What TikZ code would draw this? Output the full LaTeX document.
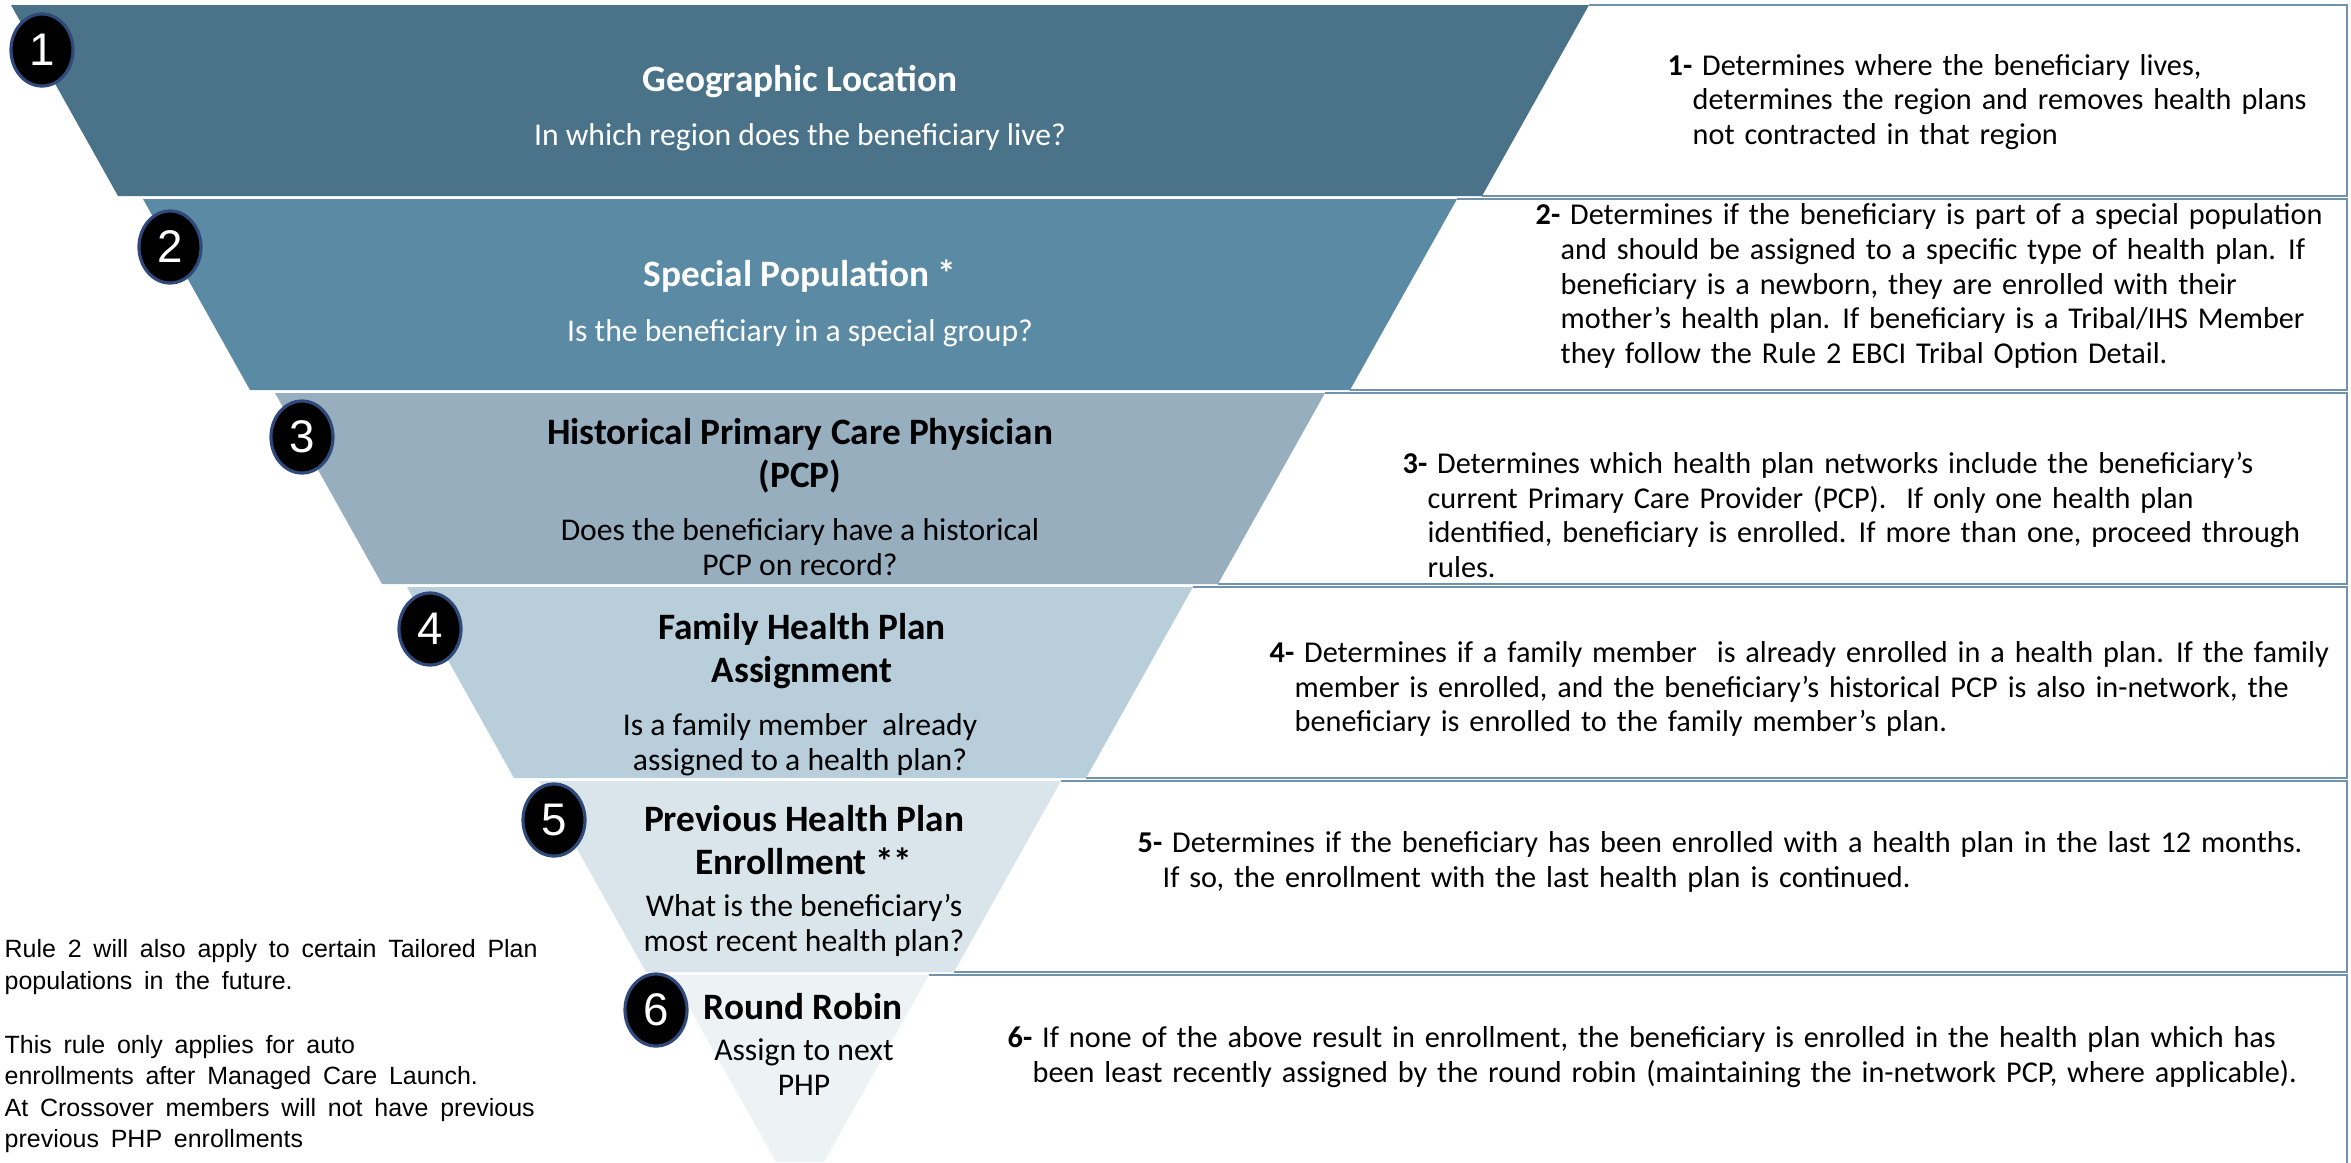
\documentclass[tikz,border=0pt]{standalone}
\usepackage{fontspec}
\setmainfont{Carlito}
\newfontfamily\numfont{Liberation Sans}
\newfontfamily\notefont{Liberation Sans}[WordSpace=1.7]
\newfontfamily\detailfont{Carlito}[WordSpace=1.45]
\usepackage{tikz}
\usetikzlibrary{shapes.geometric}
\definecolor{bandone}{RGB}{74,115,137}
\definecolor{bandtwo}{RGB}{91,138,164}
\definecolor{bandthree}{RGB}{151,174,191}
\definecolor{bandfour}{RGB}{184,206,218}
\definecolor{bandfive}{RGB}{218,229,235}
\definecolor{bandsix}{RGB}{237,242,245}
\definecolor{boxline}{RGB}{112,146,172}
\definecolor{dotline}{RGB}{47,74,122}
\newcommand{\hind}{\hspace*{7.1pt}}

\begin{document}
\begin{tikzpicture}[
    x=0.01cm, y=-0.01cm,
    infobox/.style={draw=boxline, line width=0.7pt},
    numdot/.style={ellipse, fill=black, draw=dotline, line width=0.9pt, minimum width=0.62cm, minimum height=0.72cm, inner sep=0pt, text=white, font=\numfont\fontsize{13}{13}\selectfont},
    bandtitle/.style={font=\bfseries\fontsize{10.6}{12.3}\selectfont, align=center, inner sep=0pt, text=#1},
    question/.style={font=\fontsize{9}{10}\selectfont, align=center, inner sep=0pt, text=#1},
    detail/.style={font=\detailfont\fontsize{8.6}{9.9}\selectfont, align=left, anchor=west, inner sep=0pt},
    sidenote/.style={font=\notefont\fontsize{7.1}{9}\selectfont, align=left, anchor=west, inner sep=0pt}
]
    \useasboundingbox (0,0) rectangle (2351,1162);

    % Boxes on the right
    \draw[infobox] (1589,5) -- (2347,5) -- (2347,196) -- (1482,196);
    \draw[infobox] (1457,199) -- (2347,199) -- (2347,390) -- (1350,390);
    \draw[infobox] (1325,393) -- (2347,393) -- (2347,584) -- (1218,584);
    \draw[infobox] (1193,587) -- (2347,587) -- (2347,778) -- (1086,778);
    \draw[infobox] (1061,781) -- (2347,781) -- (2347,972) -- (954,972);
    \draw[infobox] (929,975) -- (2347,975) -- (2347,1175);

    % Funnel bands
    \fill[bandone] (11,5) -- (1589,5) -- (1482,196) -- (118,196) -- cycle;
    \fill[bandtwo] (143,199) -- (1457,199) -- (1350,390) -- (250,390) -- cycle;
    \fill[bandthree] (275,393) -- (1325,393) -- (1218,584) -- (382,584) -- cycle;
    \fill[bandfour] (407,587) -- (1193,587) -- (1086,778) -- (514,778) -- cycle;
    \fill[bandfive] (539,781) -- (1061,781) -- (954,972) -- (646,972) -- cycle;
    \fill[bandsix] (671,975) -- (929,975) -- (824,1162) -- (776,1162) -- cycle;

    % Step numbers
    \node[numdot] (n1) at (42,50) {1};
    \node[numdot] (n2) at (170,247) {2};
    \node[numdot] (n3) at (302,437) {3};
    \node[numdot] (n4) at (430,629) {4};
    \node[numdot] (n5) at (554,820) {5};
    \node[numdot] (n6) at (656,1010) {6};

    % Funnel texts
    \node[bandtitle=white] (geo) at (800,82) {Geographic Location};
    \node[question=white] (geoq) at (800,137) {In which region does the beneficiary live?};
    \node[bandtitle=white] (spec) at (800,276) {Special Population *};
    \node[question=white] (specq) at (800,333) {Is the beneficiary in a special group?};
    \node[bandtitle=black] (pcp) at (800,456) {Historical Primary Care Physician\\(PCP)};
    \node[question=black] (pcpq) at (800,547) {Does the beneficiary have a historical\\PCP on record?};
    \node[bandtitle=black] (fam) at (802,651) {Family Health Plan\\Assignment};
    \node[question=black] (famq) at (800,745) {Is a family member\ \ already\\assigned to a health plan?};
    \node[bandtitle=black] (prev) at (804,840) {Previous Health Plan\\Enrollment **};
    \node[question=black] (prevq) at (804,925) {What is the beneficiary’s\\most recent health plan?};
    \node[bandtitle=black] (rr) at (803,1007) {Round Robin};
    \node[question=black] (rrq) at (804,1067) {Assign to next\\PHP};

    % Rule details
    \node[detail] (d1) at (1667,102) {\textbf{1-} Determines where the beneficiary lives,\\\hind determines the region and removes health plans\\\hind not contracted in that region};
    \node[detail] (d2) at (1535,286) {\textbf{2-} Determines if the beneficiary is part of a special population\\\hind and should be assigned to a specific type of health plan. If\\\hind beneficiary is a newborn, they are enrolled with their\\\hind mother’s health plan. If beneficiary is a Tribal/IHS Member\\\hind they follow the Rule 2 EBCI Tribal Option Detail.};
    \node[detail] (d3) at (1402,515) {\textbf{3-} Determines which health plan networks include the beneficiary’s\\\hind current Primary Care Provider (PCP).\ \ If only one health plan\\\hind identified, beneficiary is enrolled. If more than one, proceed through\\\hind rules.};
    \node[detail] (d4) at (1269,689) {\textbf{4-} Determines if a family member\ \ is already enrolled in a health plan. If the family\\\hind member is enrolled, and the beneficiary’s historical PCP is also in-network, the\\\hind beneficiary is enrolled to the family member’s plan.};
    \node[detail] (d5) at (1137,862) {\textbf{5-} Determines if the beneficiary has been enrolled with a health plan in the last 12 months.\\\hind If so, the enrollment with the last health plan is continued.};
    \node[detail] (d6) at (1007,1057) {\textbf{6-} If none of the above result in enrollment, the beneficiary is enrolled in the health plan which has\\\hind been least recently assigned by the round robin (maintaining the in-network PCP, where applicable).};

    % Notes on the left
    \node[sidenote] (note1) at (4,967) {Rule 2 will also apply to certain Tailored Plan\\populations in the future.};
    \node[sidenote] (note2) at (4,1094) {This rule only applies for auto\\enrollments after Managed Care Launch.\\At Crossover members will not have previous\\previous PHP enrollments};
\end{tikzpicture}
\end{document}
